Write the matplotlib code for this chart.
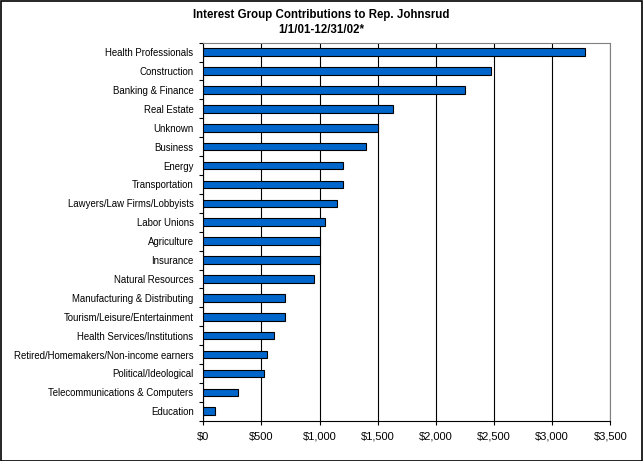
import numpy as np
import matplotlib.pyplot as plt
from matplotlib.ticker import FuncFormatter, MultipleLocator

# Datos (de mayor a menor)
categorias = ["Health Professionals", "Construction", "Banking & Finance", "Real Estate",
              "Unknown", "Business", "Energy", "Transportation",
              "Lawyers/Law Firms/Lobbyists", "Labor Unions", "Agriculture", "Insurance",
              "Natural Resources", "Manufacturing & Distributing",
              "Tourism/Leisure/Entertainment", "Health Services/Institutions",
              "Retired/Homemakers/Non-income earners", "Political/Ideological",
              "Telecommunications & Computers", "Education"]
montos = [3280, 2470, 2250, 1630, 1500, 1400, 1200, 1200,
          1150, 1045, 1000, 1000, 950, 700,
          700, 605, 550, 520, 300, 100]

plt.rcParams['font.family'] = ['Liberation Sans', 'DejaVu Sans']

fig = plt.figure(figsize=(6.43, 4.61), dpi=100)
ax = fig.add_axes([0.3162, 0.0874, 0.6329, 0.82])

n = len(categorias)
y = np.arange(n)
ax.barh(y, montos, height=0.4, color='#0066CC', edgecolor='black', linewidth=0.8, zorder=3)

ax.set_ylim(n - 0.5, -0.5)
ax.set_xlim(0, 3500)
ax.xaxis.set_major_locator(MultipleLocator(500))
ax.xaxis.set_major_formatter(FuncFormatter(lambda v, p: '${:,.0f}'.format(v)))
ax.grid(axis='x', color='black', linewidth=0.8, zorder=1)

ax.set_yticks(y)
ax.set_yticklabels(categorias, fontsize=6.9)
ax.set_yticks(np.arange(n + 1) - 0.5, minor=True)
ax.tick_params(axis='y', which='major', length=0, pad=7)
ax.tick_params(axis='y', which='minor', length=3, width=0.8, direction='out')
ax.tick_params(axis='x', length=3, width=0.8, labelsize=8, pad=5)

for lado in ['top', 'right']:
    ax.spines[lado].set_color('#808080')
    ax.spines[lado].set_linewidth(0.8)
for lado in ['left', 'bottom']:
    ax.spines[lado].set_color('black')
    ax.spines[lado].set_linewidth(0.8)

fig.text(0.5, 0.968, 'Interest Group Contributions to Rep. Johnsrud', ha='center', va='center',
         fontsize=8.3, fontweight='bold')
fig.text(0.5, 0.935, '1/1/01-12/31/02*', ha='center', va='center', fontsize=8.3, fontweight='bold')

# Borde negro alrededor de la figura
fig.patches.append(plt.Rectangle((0.001, 0.001), 0.997, 0.997, transform=fig.transFigure,
                                 fill=False, edgecolor='black', linewidth=1.2))

fig.savefig('out.png', dpi=100)
